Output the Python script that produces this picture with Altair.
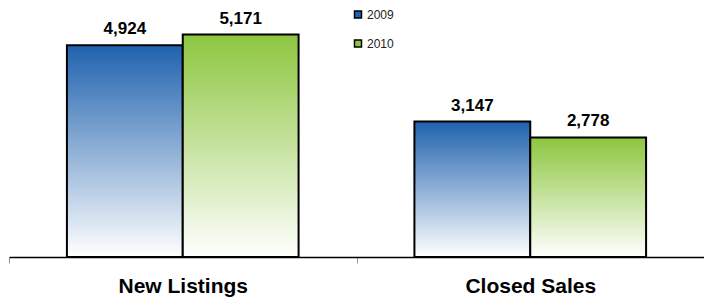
import altair as alt
import pandas as pd

categories = ["New Listings", "Closed Sales"]
years = ["2009", "2010"]
values_2009 = [4924, 3147]
values_2010 = [5171, 2778]

rows = []
for i, c in enumerate(categories):
    rows.append({"category": c, "year": years[0], "value": values_2009[i]})
    rows.append({"category": c, "year": years[1], "value": values_2010[i]})
df = pd.DataFrame(rows)

blue = "#1f62ae"
green = "#8dc63f"


def grad(c):
    return alt.Gradient(
        gradient="linear",
        stops=[alt.GradientStop(color=c, offset=0), alt.GradientStop(color="#ffffff", offset=1)],
        x1=0, x2=0, y1=0, y2=1,
    )


FONT = "Arial, Liberation Sans, sans-serif"

x = alt.X(
    "category:N",
    sort=categories,
    scale=alt.Scale(paddingInner=0, paddingOuter=0),
    axis=alt.Axis(
        title=None, labelAngle=0, labelFont=FONT, labelFontSize=21, labelFontWeight="bold",
        labelColor="black", labelBaseline="alphabetic", labelPadding=29,
        domainColor="black", domainWidth=1.5, tickColor="#999999", tickSize=6,
        tickBand="extent", grid=False,
    ),
)
xo = alt.XOffset("year:N", sort=years, scale=alt.Scale(paddingInner=0, paddingOuter=0.5))
y = alt.Y("value:Q", scale=alt.Scale(domain=[0, 5787], nice=False), axis=None)

base = alt.Chart(df)

legend_layer = base.mark_bar().encode(
    x=x, xOffset=xo, y=y,
    color=alt.Color(
        "year:N",
        scale=alt.Scale(domain=years, range=[blue, green]),
        legend=alt.Legend(
            title=None, orient="none", legendX=343, legendY=0.5, padding=0,
            symbolType="square", symbolSize=49, symbolStrokeColor="black",
            symbolStrokeWidth=1.5, labelFont=FONT, labelFontSize=12,
            labelColor="#222222", labelOffset=3, rowPadding=15,
        ),
    ),
)

bars_2009 = base.transform_filter(alt.datum.year == years[0]).mark_bar(
    color=grad(blue), stroke="black", strokeWidth=2
).encode(x=x, xOffset=xo, y=y)

bars_2010 = base.transform_filter(alt.datum.year == years[1]).mark_bar(
    color=grad(green), stroke="black", strokeWidth=2
).encode(x=x, xOffset=xo, y=y)

labels = base.mark_text(
    dy=-11, baseline="alphabetic", fontSize=17, fontWeight="bold", font=FONT, color="black"
).encode(x=x, xOffset=xo, y=y, text=alt.Text("value:Q", format=","))

chart = alt.layer(legend_layer, bars_2009, bars_2010, labels).properties(
    width=695, height=249,
    padding={"left": 1, "top": 0, "right": 0, "bottom": 41},
    autosize=alt.AutoSizeParams(type="none"),
).configure_view(stroke=None)

chart.save("out.html", embed_options={"renderer": "svg", "actions": False})
